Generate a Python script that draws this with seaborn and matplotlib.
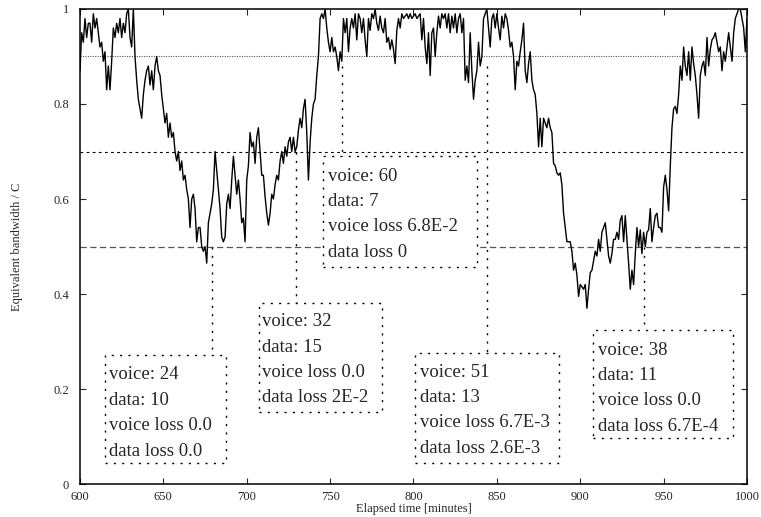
import numpy as np
import pandas as pd
import matplotlib
matplotlib.use("Agg")
import matplotlib.pyplot as plt
from matplotlib.patches import Rectangle
import seaborn as sns

# --------------------- Data ---------------------
minutes = np.arange(600, 1001)

bw_600s = [0.87, 0.95, 0.93, 0.98, 0.94, 0.97, 0.97, 0.93, 0.99, 0.96,
           0.98, 0.95, 0.92, 0.93, 0.89, 0.91, 0.83, 0.88, 0.83, 0.89,
           0.96, 0.94, 0.97, 0.95, 0.98, 0.94, 0.97, 0.95, 0.99, 1.00,
           0.94, 0.92, 1.00, 0.90, 0.85, 0.81, 0.79, 0.77, 0.82, 0.85,
           0.87, 0.88, 0.84, 0.87, 0.83, 0.88, 0.90, 0.87, 0.86, 0.82,
           0.79, 0.76, 0.78, 0.73, 0.76, 0.73, 0.74, 0.70, 0.68, 0.70,
           0.66, 0.68, 0.64, 0.65, 0.62, 0.60, 0.54, 0.60, 0.61, 0.58,
           0.51, 0.54, 0.54, 0.50, 0.49, 0.50, 0.465, 0.55, 0.57, 0.59,
           0.62, 0.70, 0.66, 0.62, 0.58, 0.52, 0.51, 0.52, 0.59, 0.61,
           0.58, 0.64, 0.69, 0.65, 0.61, 0.64, 0.60, 0.55, 0.56, 0.51]

bw_700s = [0.64, 0.67, 0.74, 0.71, 0.72, 0.675, 0.73, 0.75, 0.70, 0.65,
           0.65, 0.605, 0.57, 0.545, 0.57, 0.61, 0.60, 0.63, 0.65, 0.64,
           0.68, 0.70, 0.675, 0.71, 0.69, 0.72, 0.73, 0.70, 0.73, 0.70,
           0.71, 0.745, 0.77, 0.75, 0.79, 0.81, 0.74, 0.64, 0.72, 0.77,
           0.80, 0.81, 0.86, 0.90, 0.98, 0.99, 0.98, 1.00, 0.96, 0.93,
           0.91, 0.94, 0.91, 0.92, 0.90, 0.87, 0.91, 0.89, 0.98, 0.95,
           0.98, 0.91, 0.96, 0.98, 0.96, 0.99, 0.935, 0.99, 0.98, 0.95,
           0.98, 0.935, 0.90, 0.98, 0.955, 0.99, 0.98, 1.00, 0.97, 0.955,
           0.985, 0.96, 0.95, 0.98, 0.93, 0.94, 0.915, 0.935, 0.915, 0.885,
           0.955, 0.98, 0.96, 0.99, 0.98, 0.985, 0.99, 0.98, 0.99, 0.98]

bw_800s = [0.985, 0.99, 0.98, 0.985, 0.99, 0.935, 0.98, 0.92, 0.885, 0.95,
           0.86, 0.95, 0.96, 0.90, 0.95, 0.985, 0.96, 0.99, 0.98, 0.99,
           0.96, 0.99, 0.95, 0.985, 0.96, 0.99, 0.95, 0.98, 0.99, 0.95,
           0.98, 0.85, 0.88, 0.845, 0.95, 0.87, 0.81, 0.85, 0.87, 0.93,
           0.88, 0.90, 0.98, 0.99, 1.00, 0.96, 0.92, 0.98, 0.99, 0.96,
           0.99, 0.96, 0.935, 0.985, 0.96, 0.99, 0.98, 0.955, 0.92, 0.93,
           0.90, 0.83, 0.89, 0.88, 0.91, 0.935, 0.97, 0.87, 0.845, 0.885,
           0.91, 0.85, 0.83, 0.82, 0.78, 0.71, 0.77, 0.71, 0.77, 0.76,
           0.75, 0.77, 0.75, 0.74, 0.675, 0.67, 0.655, 0.65, 0.655, 0.63,
           0.57, 0.54, 0.51, 0.51, 0.51, 0.49, 0.45, 0.465, 0.44, 0.395]

bw_900s = [0.42, 0.415, 0.41, 0.42, 0.37, 0.41, 0.445, 0.45, 0.47, 0.49,
           0.48, 0.515, 0.49, 0.53, 0.54, 0.55, 0.515, 0.48, 0.465, 0.485,
           0.515, 0.515, 0.53, 0.515, 0.555, 0.565, 0.51, 0.565, 0.515, 0.465,
           0.41, 0.45, 0.42, 0.485, 0.54, 0.50, 0.535, 0.485, 0.53, 0.50,
           0.53, 0.535, 0.58, 0.51, 0.54, 0.565, 0.57, 0.54, 0.54, 0.53,
           0.625, 0.65, 0.62, 0.575, 0.67, 0.75, 0.79, 0.795, 0.78, 0.82,
           0.88, 0.85, 0.92, 0.88, 0.86, 0.91, 0.85, 0.92, 0.885, 0.86,
           0.82, 0.77, 0.86, 0.88, 0.89, 0.86, 0.94, 0.88, 0.915, 0.935,
           0.94, 0.95, 0.93, 0.91, 0.92, 0.87, 0.91, 0.89, 0.92, 0.95,
           0.92, 0.89, 0.95, 0.98, 0.99, 1.00, 1.00, 0.98, 0.96, 0.91,
           0.98]

bandwidth = bw_600s + bw_700s + bw_800s + bw_900s

# threshold levels
thresholds = [0.9, 0.7, 0.5]

# annotation boxes: text lines, connector x, connector top
box_texts = [
    ["voice: 24", "data: 10", "voice loss 0.0", "data loss 0.0"],
    ["voice: 32", "data: 15", "voice loss 0.0", "data loss 2E-2"],
    ["voice: 60", "data: 7", "voice loss 6.8E-2", "data loss 0"],
    ["voice: 51", "data: 13", "voice loss 6.7E-3", "data loss 2.6E-3"],
    ["voice: 38", "data: 11", "voice loss 0.0", "data loss 6.7E-4"],
]
conn_x = [679.3, 729.5, 757.1, 844.1, 938.2]
conn_top = [0.5, 0.7, 0.88, 0.88, 0.5]

xticks = [600, 650, 700, 750, 800, 850, 900, 950, 1000]
yticks = [0, 0.2, 0.4, 0.6, 0.8, 1]
ytick_labels = ["0", "0.2", "0.4", "0.6", "0.8", "1"]

df = pd.DataFrame({"minute": minutes, "bw": bandwidth})

# --------------------- Plot ---------------------
sns.set_style("ticks")
plt.rcParams['font.family'] = ['Liberation Serif', 'DejaVu Serif']

fig = plt.figure(figsize=(7.61, 5.17), dpi=100)
ax = fig.add_axes([0.1051, 0.0638, 0.8765, 0.9188])

sns.lineplot(data=df, x="minute", y="bw", ax=ax, color="black",
             linewidth=1.0, estimator=None, zorder=2)

# threshold lines
ax.axhline(thresholds[0], color="#555555", lw=0.8, ls=(0, (1, 1.2)), zorder=1)
ax.axhline(thresholds[1], color="black", lw=0.8, ls=(0, (2.5, 3)), zorder=1)
ax.axhline(thresholds[2], color="#555555", lw=0.9, ls=(0, (5, 2.8)), zorder=1)

# box geometry (left, right, top, bottom, text x, first line y)
box_geom = [
    (615.0, 687.4, 0.2716, 0.0442, 617.4, 0.2295),
    (707.3, 781.1, 0.3817, 0.1522, 709.1, 0.3417),
    (745.5, 837.9, 0.6905, 0.4568, 748.7, 0.6484),
    (800.9, 887.3, 0.2758, 0.0442, 803.9, 0.2358),
    (907.8, 991.6, 0.3242, 0.0968, 910.6, 0.2821),
]
line_step = 0.0535
dot_style = (0, (1.5, 4.5))

for lines, cx, ctop, (l, r, t, b, tx, ty) in zip(box_texts, conn_x, conn_top, box_geom):
    ax.plot([cx, cx], [ctop, t], color="black", lw=1.0, ls=dot_style, zorder=2.5)
    ax.add_patch(Rectangle((l, b), r - l, t - b, facecolor="white",
                           edgecolor="black", lw=1.0, ls=dot_style, zorder=3))
    for i, s in enumerate(lines):
        ax.text(tx, ty - i * line_step, s, fontsize=13.5, va="center",
                ha="left", zorder=4)

ax.set_xlim(600, 1000)
ax.set_ylim(0, 1)
ax.set_xticks(xticks)
ax.set_yticks(yticks)
ax.set_yticklabels(ytick_labels)
ax.tick_params(direction="in", top=True, right=True, length=4, width=0.8,
               labelsize=9)
ax.tick_params(axis="x", pad=5)
ax.tick_params(axis="y", pad=8)
for sp in ax.spines.values():
    sp.set_linewidth(1.1)
    sp.set_color("black")

ax.set_xlabel("Elapsed time [minutes]", fontsize=9)
ax.set_ylabel("Equivalent bandwidth / C", fontsize=9)
ax.xaxis.set_label_coords(0.5, -0.041)
ax.yaxis.set_label_coords(-0.086, 0.5)

fig.savefig("out.png", dpi=100)
